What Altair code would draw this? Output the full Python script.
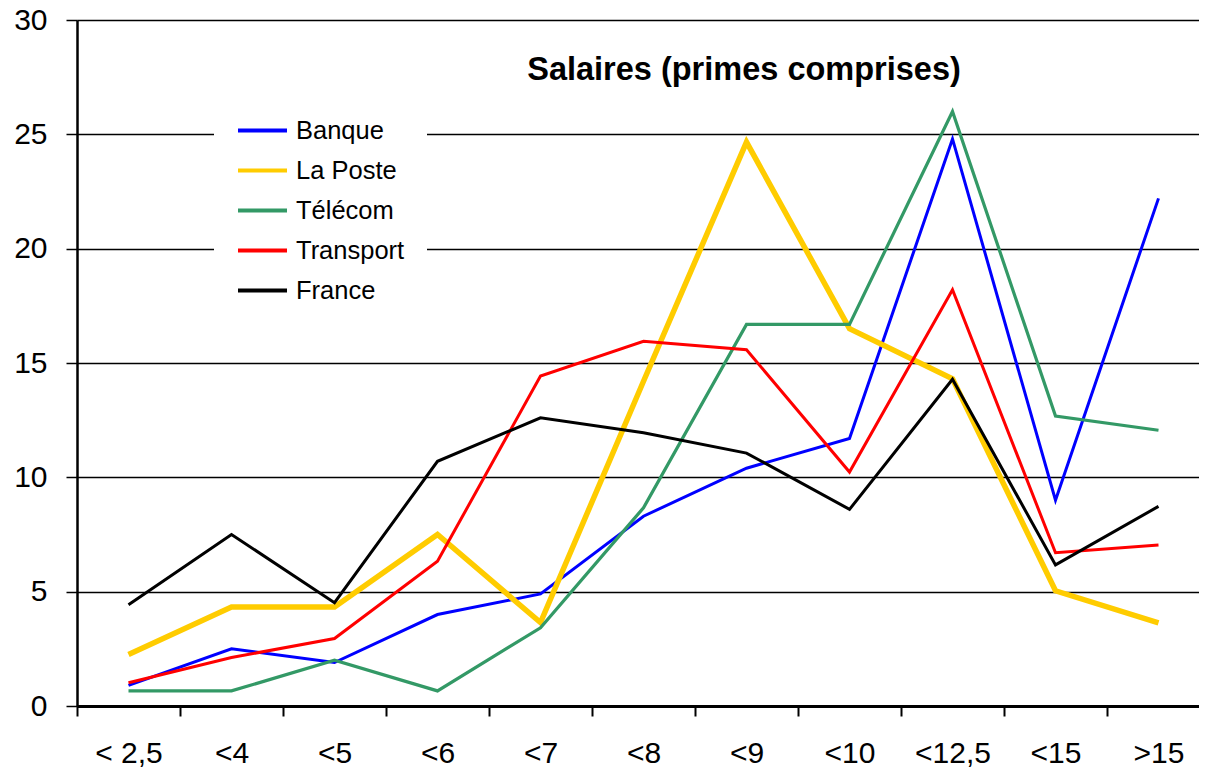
import altair as alt
import pandas as pd

categories = ["< 2,5", "<4", "<5", "<6", "<7", "<8", "<9", "<10", "<12,5", "<15", ">15"]
series_names = ["Banque", "La Poste", "Télécom", "Transport", "France"]
banque = [0.9, 2.5, 1.9, 4.0, 4.9, 8.3, 10.4, 11.7, 24.8, 9.0, 22.2]
la_poste = [2.25, 4.33, 4.33, 7.5, 3.65, 14.2, 24.66, 16.5, 14.31, 5.04, 3.64]
telecom = [0.66, 0.66, 2.0, 0.66, 3.42, 8.67, 16.69, 16.69, 26.0, 12.68, 12.06]
transport = [1.02, 2.12, 2.95, 6.33, 14.43, 15.95, 15.58, 10.23, 18.2, 6.7, 7.04]
france = [4.43, 7.5, 4.52, 10.7, 12.6, 11.95, 11.06, 8.6, 14.29, 6.17, 8.73]
colors = ["#0000FF", "#FFCC00", "#339966", "#FF0000", "#000000"]
widths = [3, 5.5, 3.2, 3, 3]
y_ticks = [0, 5, 10, 15, 20, 25, 30]

values = [banque, la_poste, telecom, transport, france]
rows = []
for name, vals in zip(series_names, values):
    for i, (c, v) in enumerate(zip(categories, vals)):
        rows.append({"cat": c, "idx": i, "serie": name, "val": v})
df = pd.DataFrame(rows)

FONT = "Liberation Sans"

x_enc = alt.X("cat:N", sort=categories,
              scale=alt.Scale(domain=categories, range=[0, 1133], paddingInner=0, paddingOuter=0),
              axis=alt.Axis(title=None, tickBand="extent", labelAngle=0, grid=False,
                            domainColor="black", domainWidth=3, tickColor="black",
                            tickWidth=2, tickSize=10, labelFontSize=30, labelFont=FONT,
                            labelColor="black", labelPadding=22))
y_enc = alt.Y("val:Q", scale=alt.Scale(domain=[0, 30], nice=False),
              axis=alt.Axis(title=None, values=y_ticks, grid=True, gridColor="black",
                            gridWidth=1.5, domainColor="black", domainWidth=2.5,
                            tickColor="black", tickWidth=1.5, tickSize=11,
                            labelFontSize=30, labelFont=FONT, labelColor="black",
                            labelPadding=19))
color_enc = alt.Color("serie:N", scale=alt.Scale(domain=series_names, range=colors),
                      legend=alt.Legend(title=None, orient="none", legendX=137, legendY=62,
                                        fillColor="white", padding=22, symbolType="stroke",
                                        symbolSize=2401, rowPadding=-15, labelFontSize=25.5,
                                        labelFont=FONT, labelColor="black", labelOffset=7,
                                        symbolStrokeWidth=4))

layers = []
for s, w in zip(series_names, widths):
    layers.append(
        alt.Chart(df).transform_filter(alt.datum.serie == s)
        .mark_line(strokeJoin="miter", strokeCap="butt", strokeWidth=w)
        .encode(x=x_enc, y=y_enc, color=color_enc)
    )

chart = alt.layer(*layers).properties(
    width=1122,
    height=686,
    padding={"left": 69, "top": 12, "right": 0, "bottom": 68},
    autosize=alt.AutoSizeParams(type="none"),
    title=alt.TitleParams("Salaires (primes comprises)", font=FONT, fontSize=32.5,
                          fontWeight="bold", color="black", anchor="middle",
                          frame="group", offset=0, dx=106, dy=107, baseline="alphabetic"),
).configure_view(stroke=None).configure(background="white")

chart.save("out.html", embed_options={"renderer": "svg", "actions": False})
